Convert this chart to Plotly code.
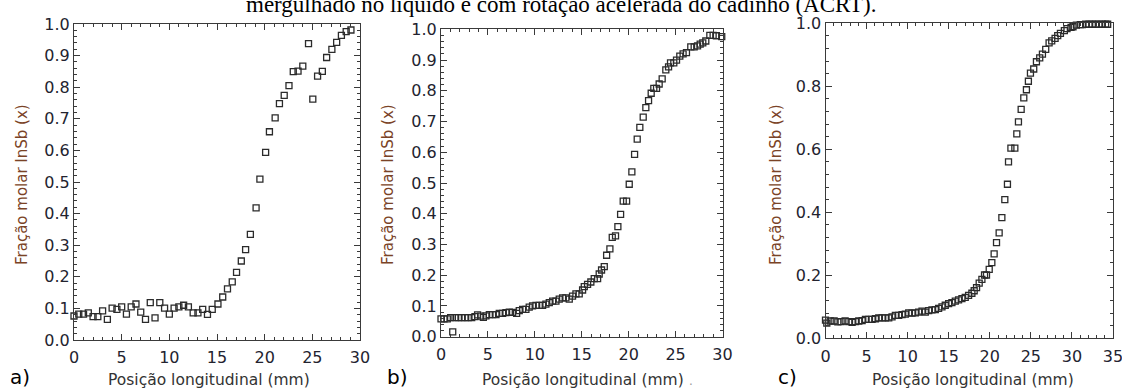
import plotly.graph_objects as go

# ---------------- data ----------------
xa = [0.0, 0.5, 1.0, 1.5, 2.0, 2.5, 3.0, 3.5, 4.0, 4.5, 5.0, 5.5, 6.0, 6.5, 7.0, 7.5, 8.0, 8.5, 9.0, 9.5,
      10.0, 10.5, 11.0, 11.5, 12.0, 12.5, 13.0, 13.5, 14.0, 14.5, 15.1, 15.6, 16.1, 16.6, 17.05, 17.55, 18.0, 18.5, 19.1, 19.5,
      20.1, 20.5, 21.1, 21.55, 22.05, 22.55, 23.0, 23.5, 24.0, 24.6, 25.05, 25.55, 26.05, 26.5, 27.05, 27.55, 28.05, 28.55, 29.05]
ya = [0.076, 0.082, 0.082, 0.086, 0.074, 0.074, 0.092, 0.065, 0.101, 0.097, 0.105, 0.082, 0.105, 0.114, 0.088, 0.065, 0.118, 0.070, 0.118, 0.101,
      0.082, 0.101, 0.105, 0.110, 0.105, 0.086, 0.086, 0.097, 0.081, 0.097, 0.114, 0.136, 0.162, 0.184, 0.214, 0.250, 0.286, 0.334, 0.418, 0.509,
      0.594, 0.659, 0.703, 0.748, 0.774, 0.805, 0.849, 0.851, 0.867, 0.938, 0.762, 0.835, 0.850, 0.894, 0.920, 0.942, 0.964, 0.976, 0.981]

xb = [0.0, 0.32, 0.67, 1.03, 1.25, 1.49, 1.85, 2.2, 2.56, 2.9, 3.27, 3.62, 3.9, 4.23, 4.51, 4.79, 5.15, 5.5, 5.86, 6.21,
      6.57, 6.92, 7.28, 7.63, 8.06, 8.34, 8.7, 9.05, 9.4, 9.76, 10.12, 10.47, 10.83, 11.18, 11.54, 11.9, 12.25, 12.6, 12.96, 13.31,
      13.67, 14.02, 14.38, 14.73, 15.09, 15.27, 15.62, 15.97, 16.33, 16.69, 16.86, 17.11, 17.4, 17.65, 18.0, 18.25, 18.6, 18.85, 19.14, 19.42,
      19.78, 20.06, 20.34, 20.63, 20.91, 21.19, 21.55, 21.83, 22.12, 22.4, 22.68, 22.97, 23.25, 23.57, 23.96, 24.25, 24.46, 24.81, 25.1, 25.45,
      25.8, 26.16, 26.62, 26.98, 27.34, 27.62, 27.9, 28.22, 28.65, 29.0, 29.35, 29.92]
yb = [0.058, 0.058, 0.058, 0.062, 0.016, 0.062, 0.062, 0.062, 0.062, 0.062, 0.062, 0.065, 0.071, 0.067, 0.063, 0.068, 0.072, 0.072, 0.072, 0.076,
      0.076, 0.078, 0.080, 0.079, 0.076, 0.085, 0.089, 0.089, 0.096, 0.100, 0.102, 0.102, 0.102, 0.106, 0.111, 0.116, 0.116, 0.122, 0.126, 0.126,
      0.122, 0.132, 0.139, 0.139, 0.152, 0.163, 0.170, 0.178, 0.189, 0.189, 0.204, 0.217, 0.228, 0.265, 0.286, 0.323, 0.328, 0.358, 0.398, 0.441,
      0.441, 0.496, 0.536, 0.593, 0.643, 0.681, 0.714, 0.745, 0.768, 0.792, 0.808, 0.808, 0.822, 0.839, 0.868, 0.878, 0.891, 0.891, 0.900, 0.913,
      0.920, 0.924, 0.943, 0.943, 0.946, 0.952, 0.956, 0.962, 0.980, 0.980, 0.979, 0.976]

xc = [0.0, 0.16, 0.57, 1.05, 1.5, 1.9, 2.39, 2.84, 3.24, 3.65, 4.05, 4.46, 4.86, 5.27, 5.67, 6.08, 6.48, 6.89, 7.29, 7.7,
      8.1, 8.51, 8.91, 9.32, 9.72, 10.13, 10.53, 10.94, 11.34, 11.75, 12.15, 12.56, 12.96, 13.37, 13.77, 14.18, 14.58, 14.99, 15.39, 15.8,
      16.2, 16.61, 17.01, 17.42, 17.82, 18.1, 18.39, 18.71, 19.04, 19.36, 19.6, 19.93, 20.25, 20.53, 20.82, 21.14, 21.47, 21.83, 22.15, 22.28,
      22.57, 23.05, 23.29, 23.49, 23.82, 24.14, 24.46, 24.7, 24.95, 25.35, 25.68, 26.08, 26.41, 26.81, 27.22, 27.54, 27.95, 28.27, 28.6, 29.08,
      29.4, 29.89, 30.13, 30.54, 31.02, 31.27, 31.67, 32.08, 32.48, 32.89, 33.29, 33.7, 34.1, 34.35]
yc = [0.058, 0.048, 0.055, 0.055, 0.052, 0.053, 0.055, 0.053, 0.051, 0.053, 0.055, 0.056, 0.060, 0.060, 0.060, 0.062, 0.065, 0.065, 0.065, 0.065,
      0.068, 0.073, 0.073, 0.075, 0.077, 0.081, 0.080, 0.081, 0.083, 0.086, 0.083, 0.088, 0.090, 0.091, 0.095, 0.100, 0.105, 0.110, 0.113, 0.118,
      0.122, 0.126, 0.130, 0.136, 0.143, 0.151, 0.161, 0.175, 0.187, 0.201, 0.201, 0.219, 0.240, 0.268, 0.304, 0.335, 0.383, 0.440, 0.489, 0.560,
      0.604, 0.604, 0.649, 0.687, 0.727, 0.763, 0.789, 0.816, 0.842, 0.855, 0.878, 0.890, 0.902, 0.917, 0.938, 0.944, 0.952, 0.961, 0.968, 0.977,
      0.983, 0.987, 0.989, 0.994, 0.996, 0.996, 0.997, 0.997, 0.997, 0.997, 0.997, 0.997, 0.997, 0.997]

x_ranges = [[0, 30], [0, 30], [0, 35]]
y_dticks = [0.1, 0.1, 0.2]
y_minor = [0.02, 0.02, 0.04]
panel_labels = ["a)", "b)", "c)"]
x_title = "Posição longitudinal (mm)"
y_title = "Fração molar InSb (x)"
caption = "mergulhado no líquido e com rotação acelerada do cadinho (ACRT)."

# ---------------- layout geometry (pixels) ----------------
W, H = 1122, 388
def px(x):
    return x / W
def py(y):
    return 1 - y / H

panels = [
    dict(x0=74, x1=360, ytop=24, ybot=340, xt=209, yt_x=22, lab_x=20),
    dict(x0=441, x1=722.5, ytop=29.3, ybot=336.7, xt=583, yt_x=388, lab_x=397),
    dict(x0=825.5, x1=1113, ytop=23.3, ybot=338.3, xt=973, yt_x=776, lab_x=787),
]

SANS = "DejaVu Sans, Verdana, sans-serif"
AX_COLOR = "#3a3a3a"
TICK_FONT = dict(family=SANS, size=16, color="#23232f")
MARK_COLOR = "#2b2b2b"

fig = go.Figure()
series = [(xa, ya), (xb, yb), (xc, yc)]
for i, (xs, ys) in enumerate(series):
    suffix = "" if i == 0 else str(i + 1)
    fig.add_trace(go.Scatter(
        x=xs, y=ys, mode="markers",
        marker=dict(symbol="square-open", size=6, color=MARK_COLOR, line=dict(width=1.3, color=MARK_COLOR)),
        xaxis="x" + suffix, yaxis="y" + suffix, cliponaxis=False, showlegend=False,
    ))

layout = dict(
    template="none",
    width=W, height=H,
    margin=dict(l=0, r=0, t=0, b=0, pad=0, autoexpand=False),
    paper_bgcolor="white", plot_bgcolor="white",
    showlegend=False,
)

annotations = []
for i, p in enumerate(panels):
    suffix = "" if i == 0 else str(i + 1)
    layout["xaxis" + suffix] = dict(
        domain=[px(p["x0"]), px(p["x1"])], range=x_ranges[i], anchor="y" + suffix,
        automargin=False, ticklabeloverflow="allow",
        tickmode="linear", tick0=0, dtick=5,
        ticks="inside", ticklen=6, tickwidth=1, tickcolor=AX_COLOR,
        minor=dict(dtick=1, ticks="inside", ticklen=3, tickwidth=1, tickcolor=AX_COLOR, showgrid=False),
        showline=True, linecolor=AX_COLOR, linewidth=1, mirror="ticks",
        showgrid=False, zeroline=False, tickfont=TICK_FONT, ticklabelstandoff=3,
    )
    layout["yaxis" + suffix] = dict(
        domain=[py(p["ybot"]), py(p["ytop"])], range=[0, 1], anchor="x" + suffix,
        automargin=False, ticklabeloverflow="allow",
        tickmode="linear", tick0=0, dtick=y_dticks[i], tickformat=".1f",
        ticks="inside", ticklen=6, tickwidth=1, tickcolor=AX_COLOR,
        minor=dict(dtick=y_minor[i], ticks="inside", ticklen=3, tickwidth=1, tickcolor=AX_COLOR, showgrid=False),
        showline=True, linecolor=AX_COLOR, linewidth=1, mirror="ticks",
        showgrid=False, zeroline=False, tickfont=TICK_FONT,
    )
    annotations.append(dict(
        text=x_title, xref="paper", yref="paper", x=px(p["xt"]), y=py(380),
        xanchor="center", yanchor="middle", showarrow=False,
        font=dict(family=SANS, size=15.5, color="#333333"),
    ))
    annotations.append(dict(
        text=y_title, xref="paper", yref="paper", x=px(p["yt_x"]), y=py(185),
        xanchor="center", yanchor="middle", showarrow=False, textangle=-90,
        font=dict(family=SANS, size=15, color="#7a4326"),
    ))
    annotations.append(dict(
        text=panel_labels[i], xref="paper", yref="paper", x=px(p["lab_x"]), y=py(377),
        xanchor="center", yanchor="middle", showarrow=False,
        font=dict(family=SANS, size=20, color="#000000"),
    ))

annotations.append(dict(
    text=caption, xref="paper", yref="paper", x=px(561), y=py(19),
    xanchor="center", yanchor="bottom", showarrow=False,
    font=dict(family="Liberation Serif, Times New Roman, serif", size=23, color="#000000"),
))
annotations.append(dict(
    text=".", xref="paper", yref="paper", x=px(691), y=py(381),
    xanchor="center", yanchor="middle", showarrow=False,
    font=dict(family=SANS, size=12, color="#9a9a9a"),
))
layout["annotations"] = annotations

fig.update_layout(**layout)
fig.write_html("out.html")
